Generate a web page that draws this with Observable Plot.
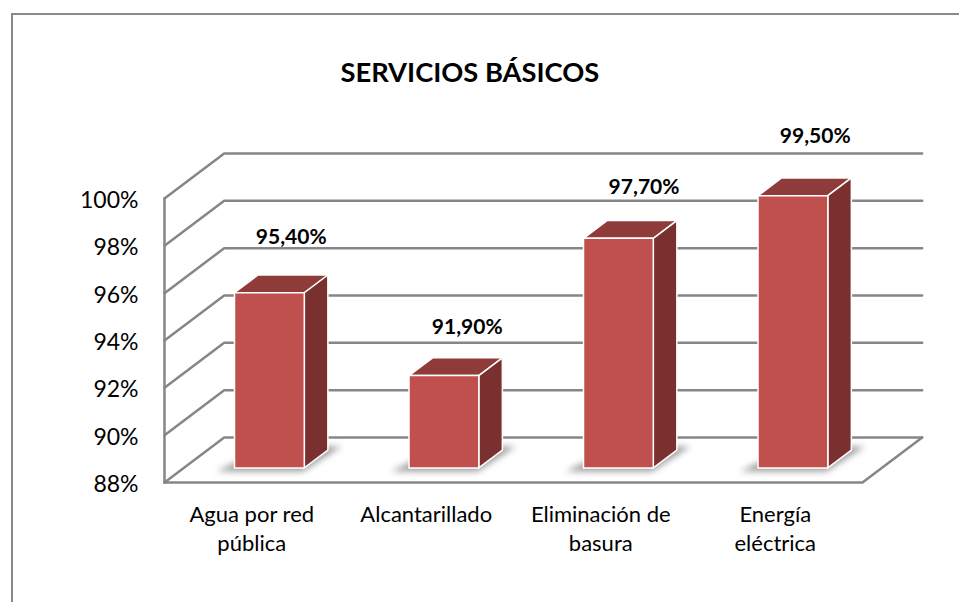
<!DOCTYPE html>
<html>
<head>
<meta charset="utf-8">
<script src="https://cdn.jsdelivr.net/npm/d3@7"></script>
<script src="https://cdn.jsdelivr.net/npm/@observablehq/plot@0.6"></script>
<style>
html,body{margin:0;padding:0;background:#fff;overflow:hidden}
#frame{position:absolute;left:11px;top:13px;width:948px;height:589px;border-left:2px solid #8a8a8a;border-top:2px solid #8a8a8a;box-sizing:border-box}
#chart{position:absolute;left:0;top:0}
#chart svg{overflow:visible}
</style>
</head>
<body>
<div id="frame"></div>
<div id="chart"></div>
<script>
const categories = ["Agua por red\npública", "Alcantarillado", "Eliminación de\nbasura", "Energía\neléctrica"];
const values = [95.4, 91.9, 97.7, 99.5];
const valueLabels = ["95,40%", "91,90%", "97,70%", "99,50%"];
const ticks = [88, 90, 92, 94, 96, 98, 100];
const chartTitle = "SERVICIOS BÁSICOS";

// oblique projection: depth z in [0,1] moves a point right and up, in data units
const depthX = 0.342, depthY = 1.9;
const P = (c, v, z, id) => ({x: c + z * depthX, y: v + z * depthY, id});
const y0 = 88, cMax = categories.length;
const halfW = 0.2, z0 = 0.325, z1 = 0.72, nudge = -0.01;

const grid = ticks.flatMap(t => [P(0, t, 0, t), P(0, t, 1, t), P(cMax, t, 1, t)]);
const floor = [P(0, y0, 0, "f"), P(cMax, y0, 0, "f"), P(cMax, y0, 1, "f")];
const wall = [P(0, y0, 0, "w"), P(0, ticks[ticks.length - 1], 0, "w")];

const shadows = [], fronts = [], tops = [], sides = [];
values.forEach((v, i) => {
  const c = i + 0.5 + nudge, a = c - halfW, b = c + halfW;
  shadows.push(P(c - 0.275, y0, 0.244, i), P(c + 0.22, y0, 0.244, i), P(c + 0.25, y0, 0.8, i), P(c - 0.17, y0, 0.8, i));
  fronts.push(P(a, y0, z0, i), P(b, y0, z0, i), P(b, v, z0, i), P(a, v, z0, i), P(a, y0, z0, i));
  tops.push(P(a, v, z0, i), P(b, v, z0, i), P(b, v, z1, i), P(a, v, z1, i));
  sides.push(P(b, y0, z0, i), P(b, y0, z1, i), P(b, v, z1, i), P(b, v, z0, i), P(b, y0, z0, i));
});

// label placement relative to each bar's top
const labelShiftX = [0.226, 0.235, 0.248, 0.229];
const labelLift = [2.34, 2.05, 2.17, 2.51];
const labels = values.map((v, i) => ({x: i + 0.5 + labelShiftX[i], y: v + z0 * depthY + labelLift[i], t: valueLabels[i]}));

const font = "Lato, 'Open Sans', sans-serif";
const poly = (d, o) => Plot.line(d, {x: "x", y: "y", z: "id", curve: "linear-closed", ...o});

const plot = Plot.plot({
  width: 959, height: 602,
  marginLeft: 164, marginRight: 97, marginTop: 198, marginBottom: 120,
  x: {domain: [0, cMax], axis: null},
  y: {domain: [y0, 100], axis: null},
  style: {fontFamily: font, background: "transparent", overflow: "visible"},
  marks: [
    Plot.line(grid, {x: "x", y: "y", z: "id", stroke: "#868686", strokeWidth: 2.5}),
    Plot.line(floor, {x: "x", y: "y", z: "id", stroke: "#868686", strokeWidth: 2.5}),
    Plot.line(wall, {x: "x", y: "y", z: "id", stroke: "#868686", strokeWidth: 2.5}),
    poly(shadows, {fill: "#a0a0a0", stroke: "none", imageFilter: "blur(3px)"}),
    poly(tops, {fill: "#8F3B39", stroke: "#fff", strokeWidth: 1.5, strokeLinejoin: "round"}),
    poly(sides, {fill: "#7A302F", stroke: "#fff", strokeWidth: 1.5, strokeLinejoin: "round"}),
    poly(fronts, {fill: "#C0504D", stroke: "#fff", strokeWidth: 1.5, strokeLinejoin: "round"}),
    Plot.axisY({ticks, tickSize: 0, tickPadding: 26, anchor: "left", label: null, tickFormat: d => d + "%", fontSize: 23, dy: 2, fill: "#000", fontFamily: font}),
    Plot.text(categories, {x: (d, i) => i + 0.5, y: y0, text: d => d, dy: 19, lineAnchor: "top", lineHeight: 1.32, fontSize: 22, fill: "#000", fontFamily: font}),
    Plot.text(labels, {x: "x", y: "y", text: "t", fontSize: 21, fontWeight: 700, fill: "#000", fontFamily: font}),
    Plot.text([chartTitle], {x: 1.75, y: 105.29, text: d => d, fontSize: 27.3, fontWeight: 700, fill: "#000", fontFamily: font})
  ]
});
document.getElementById("chart").appendChild(plot);
</script>
</body>
</html>
